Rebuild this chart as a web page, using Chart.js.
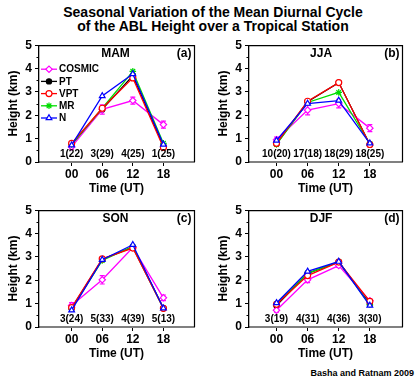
<!DOCTYPE html>
<html><head><meta charset="utf-8">
<script src="https://cdn.jsdelivr.net/npm/chart.js@4.4.1/dist/chart.umd.min.js"></script>
<style>
body{margin:0;background:#fff;width:420px;height:380px;position:relative;overflow:hidden;font-family:"Liberation Sans",Arial,sans-serif}
canvas{position:absolute}
#title{position:absolute;left:3px;top:5px;width:420px;text-align:center;font-weight:bold;font-size:14px;line-height:14px;color:#000}
#credit{position:absolute;right:6px;top:368px;font-weight:bold;font-size:9px;line-height:10px;color:#000}
</style></head><body>
<div id="title">Seasonal Variation of the Mean Diurnal Cycle<br>of the ABL Height over a Tropical Station</div>
<canvas id="cA" width="210" height="165" style="left:0;top:35px"></canvas>
<canvas id="cB" width="210" height="165" style="left:210px;top:35px"></canvas>
<canvas id="cC" width="210" height="165" style="left:0;top:200px"></canvas>
<canvas id="cD" width="210" height="165" style="left:210px;top:200px"></canvas>
<div id="credit">Basha and Ratnam 2009</div>
<script>
// ---- data ----
const HOURS = [0, 6, 12, 18];
const TIME_LABELS = ["00", "06", "12", "18"];
const SERIES = ["COSMIC", "PT", "VPT", "MR", "N"];

const MAM_COSMIC = [0.65, 2.25, 2.63, 1.60];
const MAM_COSMIC_ERR = [0.10, 0.20, 0.15, 0.15];
const MAM_PT  = [0.75, 2.25, 3.70, 0.70];
const MAM_VPT = [0.80, 2.30, 3.60, 0.62];
const MAM_MR  = [0.75, 2.30, 3.88, 0.80];
const MAM_N   = [0.72, 2.83, 3.77, 0.75];
const MAM_COUNTS = ["1(22)", "3(29)", "4(25)", "1(25)"];

const JJA_COSMIC = [0.95, 2.22, 2.50, 1.45];
const JJA_COSMIC_ERR = [0.12, 0.20, 0.18, 0.15];
const JJA_PT  = [0.78, 2.58, 3.40, 0.75];
const JJA_VPT = [0.80, 2.60, 3.40, 0.75];
const JJA_MR  = [0.75, 2.55, 2.98, 0.78];
const JJA_N   = [0.92, 2.50, 2.63, 0.80];
const JJA_COUNTS = ["10(20)", "17(18)", "18(29)", "18(25)"];

const SON_COSMIC = [0.92, 2.02, 3.40, 1.25];
const SON_COSMIC_ERR = [0.12, 0.18, 0.10, 0.12];
const SON_PT  = [0.80, 2.90, 3.42, 0.80];
const SON_VPT = [0.83, 2.92, 3.38, 0.80];
const SON_MR  = [0.78, 2.85, 3.45, 0.80];
const SON_N   = [0.72, 2.88, 3.52, 0.80];
const SON_COUNTS = ["3(24)", "5(33)", "4(39)", "5(13)"];

const DJF_COSMIC = [0.72, 2.02, 2.63, 1.12];
const DJF_COSMIC_ERR = [0.08, 0.12, 0.08, 0.08];
const DJF_PT  = [0.92, 2.30, 2.78, 1.00];
const DJF_VPT = [0.97, 2.20, 2.78, 1.10];
const DJF_MR  = [1.00, 2.30, 2.80, 0.95];
const DJF_N   = [1.03, 2.38, 2.80, 0.92];
const DJF_COUNTS = ["3(19)", "4(31)", "4(36)", "3(30)"];

// ---- styling ----
const FONT = '"Liberation Sans", Arial, sans-serif';
Chart.defaults.font.family = FONT;
Chart.defaults.color = '#000';

const STYLES = {
  COSMIC: {color: '#ff00ff', pointStyle: 'rectRot', radius: 3.2, fill: '#ffffff'},
  PT:     {color: '#000000', pointStyle: 'circle',  radius: 2.6, fill: '#000000'},
  VPT:    {color: '#ff0000', pointStyle: 'circle',  radius: 3,   fill: '#ffffff'},
  MR:     {color: '#00dd00', pointStyle: 'star',    radius: 3.3, fill: '#00dd00'},
  N:      {color: '#0000ff', pointStyle: 'triangle',radius: 3.3, fill: '#ffffff'}
};

function makeDatasets(values) {
  return SERIES.map((name, k) => {
    const s = STYLES[name];
    return {
      label: name,
      data: HOURS.map((h, i) => ({x: h, y: values[k][i]})),
      borderColor: s.color,
      backgroundColor: s.fill,
      borderWidth: 1.3,
      pointStyle: s.pointStyle,
      pointRadius: s.radius,
      pointBorderColor: s.color,
      pointBackgroundColor: s.fill,
      pointBorderWidth: 1.2,
      tension: 0,
      order: [3, 4, 1, 2, 0][k]
    };
  });
}

function drawMarker(ctx, s, x, y) {
  ctx.save();
  ctx.strokeStyle = s.color; ctx.fillStyle = s.fill; ctx.lineWidth = 1.2;
  if (Chart.helpers && Chart.helpers.drawPoint) {
    Chart.helpers.drawPoint(ctx, {pointStyle: s.pointStyle, radius: s.radius, rotation: 0, borderWidth: 1.2}, x, y);
  } else {
    ctx.beginPath(); ctx.arc(x, y, s.radius, 0, Math.PI * 2); ctx.fill(); ctx.stroke();
  }
  ctx.restore();
}

const deco = {
  id: 'deco',
  beforeDatasetsDraw(chart, args, o) {
    const ctx = chart.ctx, xs = chart.scales.x, ys = chart.scales.y;
    const vals = chart.data.datasets[0].data;
    ctx.save();
    ctx.strokeStyle = STYLES.COSMIC.color;
    ctx.lineWidth = 1.2;
    vals.forEach((p, i) => {
      const e = o.err[i];
      const x = xs.getPixelForValue(p.x);
      const y1 = ys.getPixelForValue(p.y - e), y2 = ys.getPixelForValue(p.y + e);
      ctx.beginPath();
      ctx.moveTo(x, y1); ctx.lineTo(x, y2);
      ctx.moveTo(x - 2.5, y1); ctx.lineTo(x + 2.5, y1);
      ctx.moveTo(x - 2.5, y2); ctx.lineTo(x + 2.5, y2);
      ctx.stroke();
    });
    ctx.restore();
  },
  afterDraw(chart, args, o) {
    const ctx = chart.ctx, a = chart.chartArea, xs = chart.scales.x, ys = chart.scales.y;
    ctx.save();
    ctx.strokeStyle = '#000'; ctx.lineWidth = 1.2;
    ctx.beginPath();
    ctx.moveTo(a.left, a.top + 0.5); ctx.lineTo(a.right + 0.5, a.top + 0.5); ctx.lineTo(a.right + 0.5, a.bottom);
    ctx.stroke();
    ctx.lineWidth = 1;
    for (let v = 0.5; v < 5; v += 1) {
      const y = Math.round(ys.getPixelForValue(v)) + 0.5;
      ctx.beginPath(); ctx.moveTo(a.left - 2.5, y); ctx.lineTo(a.left, y); ctx.stroke();
    }
    ctx.fillStyle = '#000';
    ctx.font = 'bold 12px ' + FONT;
    ctx.textBaseline = 'middle';
    ctx.textAlign = 'center';
    ctx.fillText(o.season, xs.getPixelForValue(8.6), a.top + 8);
    ctx.textAlign = 'right';
    ctx.fillText(o.tag, a.right - 2.5, a.top + 8);
    ctx.font = 'bold 10px ' + FONT;
    ctx.textAlign = 'center';
    HOURS.forEach((h, i) => ctx.fillText(o.counts[i], xs.getPixelForValue(h), a.bottom - 8));
    if (o.legend) {
      ctx.font = 'bold 10px ' + FONT;
      ctx.textAlign = 'left';
      SERIES.forEach((name, k) => {
        const s = STYLES[name];
        const y = a.top + 24 + k * 12.2;
        ctx.strokeStyle = s.color; ctx.lineWidth = 1.3;
        ctx.beginPath(); ctx.moveTo(a.left + 2, y); ctx.lineTo(a.left + 18, y); ctx.stroke();
        drawMarker(ctx, s, a.left + 10, y);
        ctx.fillStyle = '#000';
        ctx.fillText(name, a.left + 20, y + 0.5);
      });
    }
    ctx.restore();
  }
};

function makeChart(id, values, err, counts, season, tag, xMin, xMax, padRight, legend) {
  return new Chart(document.getElementById(id), {
    type: 'line',
    data: {datasets: makeDatasets(values)},
    plugins: [deco],
    options: {
      responsive: false, animation: false, devicePixelRatio: 1,
      layout: {padding: {left: 0, top: 9, right: padRight, bottom: 0}},
      plugins: {
        legend: {display: false}, tooltip: {enabled: false},
        deco: {err, counts, season, tag, legend}
      },
      scales: {
        x: {
          type: 'linear', min: xMin, max: xMax,
          afterBuildTicks: s => { s.ticks = HOURS.map(v => ({value: v})); },
          afterFit: s => { s.height = 38; },
          ticks: {font: {size: 12, weight: 'bold'}, padding: 1, maxRotation: 0, autoSkip: false,
                  callback: v => TIME_LABELS[HOURS.indexOf(v)]},
          grid: {drawOnChartArea: false, color: '#000', tickLength: 4, tickWidth: 1},
          border: {display: true, color: '#808080', width: 2},
          title: {display: true, text: 'Time (UT)', font: {size: 12, weight: 'bold'}, padding: {top: 0, bottom: 4}}
        },
        y: {
          min: 0, max: 5,
          afterFit: s => { s.width = 39; },
          ticks: {stepSize: 1, font: {size: 12, weight: 'bold'}, padding: 3},
          grid: {drawOnChartArea: false, color: '#000', tickLength: 4},
          border: {display: true, color: '#000', width: 1.3},
          title: {display: true, text: 'Height (km)', font: {size: 12, weight: 'bold'}, padding: {top: 6, bottom: 0}}
        }
      }
    }
  });
}

makeChart('cA', [MAM_COSMIC, MAM_PT, MAM_VPT, MAM_MR, MAM_N], MAM_COSMIC_ERR, MAM_COUNTS, 'MAM', '(a)', -6.4, 24, 16, true);
makeChart('cB', [JJA_COSMIC, JJA_PT, JJA_VPT, JJA_MR, JJA_N], JJA_COSMIC_ERR, JJA_COUNTS, 'JJA', '(b)', -5.3, 24.2, 18, false);
makeChart('cC', [SON_COSMIC, SON_PT, SON_VPT, SON_MR, SON_N], SON_COSMIC_ERR, SON_COUNTS, 'SON', '(c)', -6.4, 24, 16, false);
makeChart('cD', [DJF_COSMIC, DJF_PT, DJF_VPT, DJF_MR, DJF_N], DJF_COSMIC_ERR, DJF_COUNTS, 'DJF', '(d)', -5.3, 24.2, 18, false);
</script>
</body></html>
